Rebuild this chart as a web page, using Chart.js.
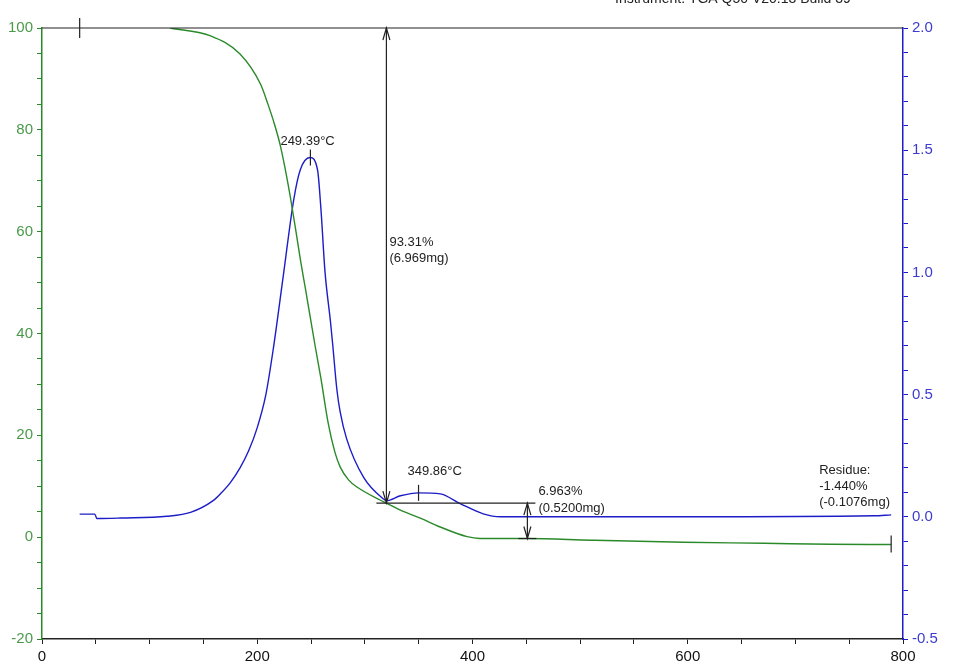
<!DOCTYPE html>
<html>
<head>
<meta charset="utf-8">
<script src="https://cdn.jsdelivr.net/npm/chart.js@4"></script>
<style>
  body { margin: 0; background: #fff; }
  #wrap { width: 957px; height: 672px; position: relative; }
</style>
</head>
<body>
<div id="wrap"><canvas id="tga"></canvas></div>
<script>
Chart.defaults.font.family = '"Liberation Sans", Arial, sans-serif';
Chart.defaults.color = '#000';

const greenColor = '#2a8a2a';
const greenLabel = '#4a9a4a';
const blueColor = '#1c1cc8';
const blueLabel = '#3c3cd0';

// weight curve (%), left axis
const tgaTemp = [119, 156, 184, 203, 210, 215, 221, 226, 231, 236, 240, 245, 249, 254, 259, 266, 272, 277, 285, 293, 314, 320, 333, 352, 370, 395, 407, 451, 510, 596, 671, 733, 789];
const tgaMass = [100, 98.5, 94.9, 89, 85, 81.8, 77.3, 72.3, 66.5, 60, 54.6, 48.5, 43.5, 37.3, 31.4, 22.3, 16.8, 13.8, 11.2, 9.8, 7.3, 6.69, 5.3, 3.7, 2.0, 0.1, -0.25, -0.27, -0.6, -1.0, -1.2, -1.4, -1.44];

// derivative weight curve (%/°C), right axis
const dtgTemp = [35, 49, 51, 73, 116, 138, 159, 166, 175, 184, 192, 200, 208, 215, 224, 234, 240, 249, 256, 259, 263, 268, 270, 274, 277, 283, 299, 317, 320, 333, 350, 370, 389, 410, 426, 600, 773, 789];
const dtgDeriv = [0.011, 0.011, -0.007, -0.005, 0.002, 0.018, 0.066, 0.095, 0.14, 0.20, 0.27, 0.365, 0.50, 0.69, 0.98, 1.30, 1.42, 1.47, 1.42, 1.27, 1.0, 0.80, 0.71, 0.52, 0.43, 0.32, 0.16, 0.074, 0.066, 0.086, 0.098, 0.094, 0.053, 0.012, 0, 0, 0.004, 0.008];

// annotations
const peakTemps = [249.39, 349.86];
const peakVals = [1.47, 0.098];
const peakLabels = ['249.39°C', '349.86°C'];
const stepTemps = [320, 451];
const stepTops = [100, 6.69];
const stepBottoms = [6.69, -0.27];
const stepLabels = [['93.31%', '(6.969mg)'], ['6.963%', '(0.5200mg)']];
const startTemp = 35;
const endTemp = 789;
const endMass = -1.44;
const residueLabel = ['Residue:', '-1.440%', '(-0.1076mg)'];
const instrumentText = 'Instrument: TGA Q50 V20.13 Build 39';

const toPoints = (xs, ys) => xs.map((t, i) => ({ x: t, y: ys[i] }));

function arrowHead(ctx, x, y, dir) {
  // open arrow head, dir = -1 points up, 1 points down
  ctx.beginPath();
  ctx.moveTo(x - 3.5, y - dir * 12);
  ctx.lineTo(x, y);
  ctx.lineTo(x + 3.5, y - dir * 12);
  ctx.stroke();
}

const annotate = {
  id: 'annotate',
  afterDatasetsDraw(chart) {
    const { ctx, chartArea, scales: { x, y, y1 } } = chart;
    ctx.save();
    ctx.strokeStyle = '#222';
    ctx.fillStyle = '#222';
    ctx.lineWidth = 1.2;
    ctx.font = '13px "Liberation Sans", Arial, sans-serif';
    ctx.textBaseline = 'alphabetic';

    // 100% line and start tick
    const y100 = y.getPixelForValue(100);
    ctx.beginPath();
    ctx.moveTo(chartArea.left, y100);
    ctx.lineTo(chartArea.right, y100);
    ctx.stroke();
    const xs = x.getPixelForValue(startTemp);
    ctx.beginPath();
    ctx.moveTo(xs, y100 - 10);
    ctx.lineTo(xs, y100 + 10);
    ctx.stroke();

    // step arrows
    stepTemps.forEach((t, i) => {
      const px = x.getPixelForValue(t);
      const top = y.getPixelForValue(stepTops[i]);
      const bot = y.getPixelForValue(stepBottoms[i]);
      ctx.beginPath();
      ctx.moveTo(px, top);
      ctx.lineTo(px, bot);
      ctx.stroke();
      arrowHead(ctx, px, top, -1);
      arrowHead(ctx, px, bot, 1);
      const mid = (top + bot) / 2;
      if (i === 0) {
        ctx.fillText(stepLabels[i][0], px + 3, mid - 20);
        ctx.fillText(stepLabels[i][1], px + 3, mid - 4);
      } else {
        ctx.beginPath();
        ctx.moveTo(px - 9, bot);
        ctx.lineTo(px + 9, bot);
        ctx.stroke();
        ctx.fillText(stepLabels[i][0], px + 11, mid - 26);
        ctx.fillText(stepLabels[i][1], px + 11, mid - 9);
      }
    });
    // horizontal line between the two steps
    const yStep = y.getPixelForValue(stepTops[1]);
    ctx.beginPath();
    ctx.moveTo(x.getPixelForValue(stepTemps[0]) - 10, yStep);
    ctx.lineTo(x.getPixelForValue(stepTemps[1]) + 8, yStep);
    ctx.stroke();

    // peak markers
    peakTemps.forEach((t, i) => {
      const px = x.getPixelForValue(t);
      const py = y1.getPixelForValue(peakVals[i]);
      ctx.beginPath();
      ctx.moveTo(px, py - 8);
      ctx.lineTo(px, py + 8);
      ctx.stroke();
      if (i === 0) ctx.fillText(peakLabels[i], px - 30, py - 13);
      else ctx.fillText(peakLabels[i], px - 11, py - 18);
    });

    // residue
    const ex = x.getPixelForValue(endTemp);
    const ey = y.getPixelForValue(endMass);
    ctx.beginPath();
    ctx.moveTo(ex, ey - 9);
    ctx.lineTo(ex, ey + 8);
    ctx.stroke();
    residueLabel.forEach((s, i) => ctx.fillText(s, ex - 72, ey - 70 + i * 16));

    // instrument line, cut off at the top
    ctx.font = '14px "Liberation Sans", Arial, sans-serif';
    ctx.fillText(instrumentText, 615, 3);
    ctx.restore();
  }
};

new Chart(document.getElementById('tga'), {
  type: 'line',
  data: {
    datasets: [{
      data: toPoints(tgaTemp, tgaMass),
      yAxisID: 'y',
      borderColor: greenColor,
      borderWidth: 1.4,
      pointRadius: 0,
      cubicInterpolationMode: 'monotone',
    }, {
      data: toPoints(dtgTemp, dtgDeriv),
      yAxisID: 'y1',
      borderColor: blueColor,
      borderWidth: 1.4,
      pointRadius: 0,
      cubicInterpolationMode: 'monotone',
    }]
  },
  options: {
    responsive: true,
    maintainAspectRatio: false,
    animation: false,
    layout: { padding: { top: 28, left: 0, right: 0, bottom: 0 } },
    plugins: {
      legend: { display: false },
      tooltip: { enabled: false }
    },
    scales: {
      x: {
        type: 'linear',
        min: 0,
        max: 800,
        afterFit: (s) => { s.height = 33; },
        border: { color: '#222', width: 1.5 },
        grid: { drawOnChartArea: false, color: '#222', tickLength: 5 },
        ticks: {
          stepSize: 50,
          autoSkip: false,
          maxRotation: 0,
          padding: 4,
          color: '#111',
          font: { size: 15 },
          callback: (v) => (v % 200 === 0 ? v : '')
        }
      },
      y: {
        position: 'left',
        min: -20,
        max: 100,
        afterFit: (s) => { s.width = 42; },
        border: { color: greenColor, width: 1.5 },
        grid: { drawOnChartArea: false, color: greenColor, tickLength: 5 },
        ticks: {
          stepSize: 5,
          autoSkip: false,
          padding: 4,
          color: greenLabel,
          font: { size: 15 },
          callback: (v) => (v % 20 === 0 ? v : '')
        }
      },
      y1: {
        position: 'right',
        min: -0.5,
        max: 2.0,
        afterFit: (s) => { s.width = 54; },
        border: { color: blueColor, width: 1.5 },
        grid: { drawOnChartArea: false, color: blueColor, tickLength: 5 },
        ticks: {
          stepSize: 0.1,
          autoSkip: false,
          padding: 4,
          color: blueLabel,
          font: { size: 15 },
          callback: (v) => (Math.abs(v * 2 - Math.round(v * 2)) < 1e-6 ? v.toFixed(1) : '')
        }
      }
    }
  },
  plugins: [annotate]
});
</script>
</body>
</html>
